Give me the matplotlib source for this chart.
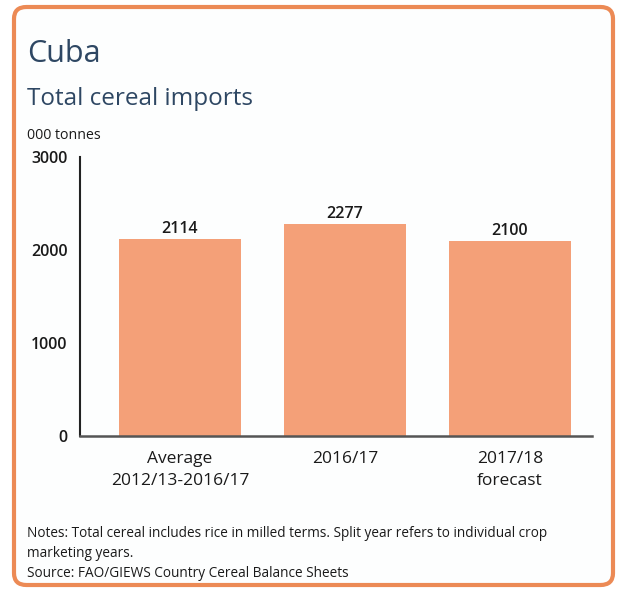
import matplotlib
matplotlib.use("Agg")
import matplotlib.pyplot as plt
from matplotlib.patches import FancyBboxPatch

categories = ["Average\n2012/13-2016/17", "2016/17", "2017/18\nforecast"]
values = [2114, 2277, 2100]
yticks = [0, 1000, 2000, 3000]

W, H = 622, 593
plt.rcParams["font.family"] = ["Open Sans", "DejaVu Sans"]

fig = plt.figure(figsize=(W / 100, H / 100), dpi=100)
fig.patch.set_facecolor("white")

# rounded orange frame, kept behind the axes
frame = FancyBboxPatch((14 / W, 8 / H), 599 / W, 578 / H,
                       boxstyle="round,pad=0,rounding_size=0.02",
                       transform=fig.transFigure, facecolor="#fdfefe",
                       edgecolor="#ec8a55", linewidth=3, zorder=-10)
fig.patches.append(frame)

title_color = "#2e4763"
fig.text(27 / W, 1 - 62 / H, "Cuba", fontsize=22, color=title_color)
fig.text(27 / W, 1 - 105 / H, "Total cereal imports", fontsize=17.5, color=title_color)
fig.text(27 / W, 1 - 139 / H, "000 tonnes", fontsize=10.2, color="#1a1a1a")

ax = fig.add_axes([80 / W, 1 - 436 / H, (592 - 80) / W, (436 - 157) / H])
ax.set_facecolor("none")
x = list(range(len(values)))
ax.bar(x, values, width=0.745, color="#f4a078", zorder=2)
for xi, v in zip(x, values):
    ax.text(xi, v + 22, f"{v}", ha="center", va="bottom", fontsize=11.5,
            fontweight="semibold", color="#1a1a1a")

ax.set_xlim(-0.606, 2.497)
ax.set_ylim(0, 3000)
ax.set_yticks(yticks)
ax.set_yticklabels([str(t) for t in yticks], fontsize=11.5,
                   fontweight="semibold", color="#1a1a1a")
ax.set_xticks(x)
ax.set_xticklabels(categories, fontsize=12.5, color="#1a1a1a", linespacing=1.45)
ax.tick_params(axis="both", length=0)
ax.tick_params(axis="y", pad=9)
ax.tick_params(axis="x", pad=11)
for s in ["top", "right"]:
    ax.spines[s].set_visible(False)
ax.spines["left"].set_color("#222222")
ax.spines["left"].set_linewidth(1.5)
ax.spines["bottom"].set_color("#555555")
ax.spines["bottom"].set_linewidth(1.8)

note_kw = dict(fontsize=9.8, color="#1a1a1a")
fig.text(27 / W, 1 - 537 / H,
         "Notes: Total cereal includes rice in milled terms. Split year refers to individual crop",
         **note_kw)
fig.text(27 / W, 1 - 557 / H, "marketing years.", **note_kw)
fig.text(27 / W, 1 - 577 / H, "Source: FAO/GIEWS Country Cereal Balance Sheets", **note_kw)

fig.savefig("out.png", dpi=100, facecolor="white")
